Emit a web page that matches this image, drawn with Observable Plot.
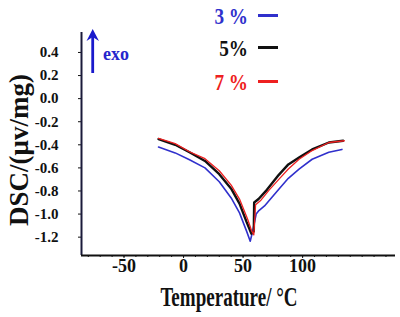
<!DOCTYPE html>
<html>
<head>
<meta charset="utf-8">
<script src="https://cdn.jsdelivr.net/npm/d3@7"></script>
<script src="https://cdn.jsdelivr.net/npm/@observablehq/plot@0.6"></script>
<style>
  html, body { margin: 0; padding: 0; background: #fff; }
  #wrap { position: relative; width: 400px; height: 317px; overflow: hidden; font-family: "Liberation Serif", "DejaVu Serif", serif; font-weight: bold; color: #111; }
  .ov { position: absolute; white-space: nowrap; line-height: 1; }
  .leg { position: absolute; left: 190px; width: 58px; text-align: right; font-size: 24px; line-height: 1; }
  .leg span { display: inline-block; transform: scaleX(0.8); transform-origin: right center; }
  .sw { position: absolute; left: 258px; width: 20px; height: 3px; }
</style>
</head>
<body>
<div id="wrap"></div>
<script>
// ---- data ----
const seriesNames = ["3 %", "5%", "7 %"];
const seriesColors = ["#3030cc", "#111111", "#ee2020"];

// 3 % (blue)
const t3 = [-21, -7, 5, 18, 30, 40, 47, 53, 56, 58, 61, 63.3, 68, 80, 88, 97, 108, 122, 133];
const v3 = [-0.42, -0.47, -0.53, -0.60, -0.72, -0.86, -0.99, -1.15, -1.235, -1.15, -1.0, -0.97, -0.93, -0.785, -0.69, -0.61, -0.525, -0.465, -0.44];
// 5% (black)
const t5 = [-21, -7, 5, 18, 30, 40, 47, 53, 57, 59, 59.3, 63, 70, 80, 88, 97, 108, 122, 134];
const v5 = [-0.35, -0.40, -0.465, -0.54, -0.655, -0.78, -0.91, -1.07, -1.17, -1.15, -0.90, -0.87, -0.79, -0.66, -0.57, -0.51, -0.44, -0.38, -0.365];
// 7 % (red)
const t7 = [-21, -7, 5, 18, 30, 40, 47, 54, 57, 59, 60.5, 65, 72, 80, 88, 97, 108, 122, 135];
const v7 = [-0.345, -0.39, -0.46, -0.52, -0.625, -0.75, -0.87, -1.05, -1.14, -1.18, -0.92, -0.88, -0.79, -0.70, -0.61, -0.525, -0.45, -0.38, -0.365];

const xTicks = [-50, 0, 50, 100];
const xMinorTicks = [-80, -70, -60, -50, -40, -30, -20, -10, 0, 10, 20, 30, 40, 50, 60, 70, 80, 90, 100, 110, 120, 130, 140, 150, 160, 170];
const yTicks = [0.4, 0.2, 0.0, -0.2, -0.4, -0.6, -0.8, -1.0, -1.2];
const xDomain = [-85.7, 178];
const yDomain = [-1.359, 0.573];

const xLabel = "Temperature/ °C";
const yLabel = "DSC/(μv/mg)";
const exoLabel = "exo";

// ---- build table ----
const rows = [];
[[t3, v3], [t5, v5], [t7, v7]].forEach(([ts, vs], i) => {
  ts.forEach((t, j) => rows.push({series: seriesNames[i], t, v: vs[j]}));
});

const plot = Plot.plot({
  width: 400,
  height: 317,
  marginLeft: 81,
  marginRight: 5,
  marginTop: 32,
  marginBottom: 62,
  style: {fontFamily: "'Liberation Serif', serif", fontWeight: "bold", color: "#111", background: "transparent"},
  x: {domain: xDomain},
  y: {domain: yDomain},
  color: {domain: seriesNames, range: seriesColors},
  marks: [
    Plot.axisX({ticks: xMinorTicks, tickSize: 2, tickFormat: () => "", label: null}),
    Plot.axisX({ticks: xTicks, tickSize: 3, tickPadding: 1, fontSize: 18, tickFormat: d => String(d), label: null}),
    Plot.axisY({ticks: yTicks, tickSize: 3, tickPadding: 20, fontSize: 15, tickFormat: d => d.toFixed(1), label: null}),
    Plot.line(rows.filter(d => d.series === seriesNames[0]), {x: "t", y: "v", stroke: "series", strokeWidth: 1.6}),
    Plot.line(rows.filter(d => d.series === seriesNames[1]), {x: "t", y: "v", stroke: "series", strokeWidth: 2.4}),
    Plot.line(rows.filter(d => d.series === seriesNames[2]), {x: "t", y: "v", stroke: "series", strokeWidth: 1.3}),
    Plot.ruleX([xDomain[0]], {stroke: "#1a1a3a", strokeWidth: 2}),
    Plot.ruleY([yDomain[0]], {stroke: "#111", strokeWidth: 2.2})
  ]
});

const wrap = document.getElementById("wrap");
plot.style.position = "absolute";
plot.style.left = "0px";
plot.style.top = "0px";
wrap.appendChild(plot);

// axis titles
const xl = document.createElement("div");
xl.className = "ov";
xl.textContent = xLabel;
xl.style.cssText += "left:229px;top:297px;font-size:28px;transform:translate(-50%,-50%) scaleX(0.68);";
wrap.appendChild(xl);

const yl = document.createElement("div");
yl.className = "ov";
yl.textContent = yLabel;
yl.style.cssText += "left:19px;top:150px;font-size:27px;transform:translate(-50%,-50%) rotate(-90deg);";
wrap.appendChild(yl);

// legend
const legTops = [4, 36, 70];
seriesNames.forEach((name, i) => {
  const d = document.createElement("div");
  d.className = "leg";
  d.style.top = legTops[i] + "px";
  d.style.color = seriesColors[i];
  const s = document.createElement("span");
  s.textContent = name;
  d.appendChild(s);
  wrap.appendChild(d);
  const sw = document.createElement("div");
  sw.className = "sw";
  sw.style.top = (legTops[i] + 10) + "px";
  sw.style.background = seriesColors[i];
  wrap.appendChild(sw);
});

// exo arrow
const ns = "http://www.w3.org/2000/svg";
const ex = document.createElementNS(ns, "svg");
ex.setAttribute("width", 60);
ex.setAttribute("height", 60);
ex.style.cssText = "position:absolute;left:80px;top:25px;overflow:visible;";
const ln = document.createElementNS(ns, "line");
ln.setAttribute("x1", 12.7); ln.setAttribute("x2", 12.7);
ln.setAttribute("y1", 48); ln.setAttribute("y2", 12);
ln.setAttribute("stroke", "#1a1acc"); ln.setAttribute("stroke-width", 2.8);
ex.appendChild(ln);
const hd = document.createElementNS(ns, "polygon");
hd.setAttribute("points", "6.5,16 12.7,4 19,16 12.7,12");
hd.setAttribute("fill", "#1a1acc");
ex.appendChild(hd);
wrap.appendChild(ex);

const exo = document.createElement("div");
exo.className = "ov";
exo.textContent = exoLabel;
exo.style.cssText += "left:103px;top:45px;font-size:18px;color:#2525cc;";
wrap.appendChild(exo);
</script>
</body>
</html>
